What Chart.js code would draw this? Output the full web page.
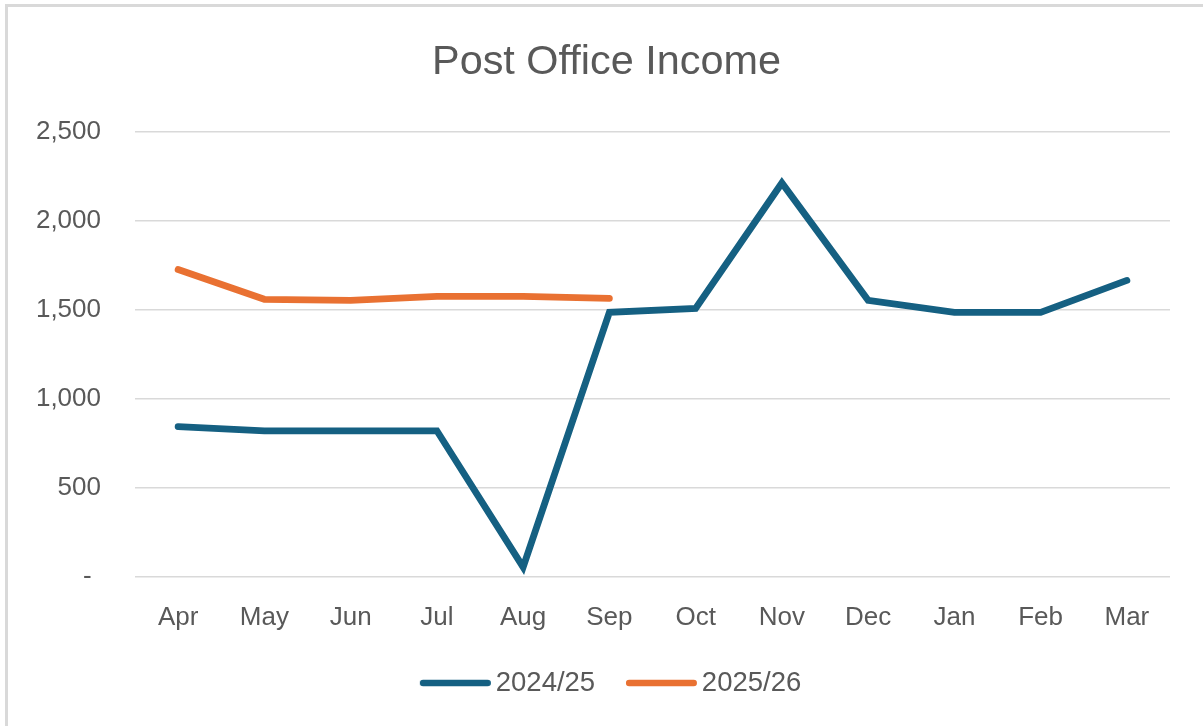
<!DOCTYPE html>
<html>
<head>
<meta charset="utf-8">
<script src="https://cdn.jsdelivr.net/npm/chart.js@4/dist/chart.umd.min.js"></script>
<style>
  html, body { margin: 0; padding: 0; background: #fff; overflow: hidden; width: 1203px; height: 726px; }
  #frame { position: absolute; left: 5px; top: 4px; width: 1220px; height: 760px;
           border-top: 3px solid #d9d9d9; border-left: 3px solid #d9d9d9; box-sizing: border-box; }
  #wrap { position: absolute; left: 5px; top: 0px; width: 1203px; height: 740px; }
</style>
</head>
<body>
<div id="frame"></div>
<div id="wrap"><canvas id="c" width="1203" height="740"></canvas></div>
<script>
const months = ['Apr','May','Jun','Jul','Aug','Sep','Oct','Nov','Dec','Jan','Feb','Mar'];
const seriesNames = ['2024/25', '2025/26'];
const income2024 = [844, 821, 821, 821, 56, 1486, 1508, 2212, 1553, 1486, 1486, 1665];
const income2025 = [1726, 1559, 1553, 1575, 1575, 1564];
const yTickValues = [0, 500, 1000, 1500, 2000, 2500];
const yTickLabels = ['-\u200A ', '500', '1,000', '1,500', '2,000', '2,500'];

const FONT = "'Liberation Sans', Arial, sans-serif";
const GREY = '#595959';
const BLUE = '#156082';
const ORANGE = '#E97132';

// legend sample: rounded line image, offset to the right inside the legend box
function legendSample(color) {
  const cv = document.createElement('canvas');
  cv.width = 88; cv.height = 10;
  const g = cv.getContext('2d');
  g.strokeStyle = color; g.lineWidth = 6.5; g.lineCap = 'round';
  g.beginPath(); g.moveTo(20.2, 5); g.lineTo(84.7, 5); g.stroke();
  return cv;
}

new Chart(document.getElementById('c'), {
  type: 'line',
  data: {
    labels: months,
    datasets: [
      { label: seriesNames[0], data: income2024, borderColor: BLUE, backgroundColor: BLUE,
        borderWidth: 6.8, borderCapStyle: 'round', pointRadius: 0, pointHoverRadius: 0,
        pointStyle: legendSample(BLUE), tension: 0 },
      { label: seriesNames[1], data: income2025, borderColor: ORANGE, backgroundColor: ORANGE,
        borderWidth: 6.8, borderCapStyle: 'round', pointRadius: 0, pointHoverRadius: 0,
        pointStyle: legendSample(ORANGE), tension: 0 }
    ]
  },
  options: {
    responsive: false,
    animation: false,
    events: [],
    layout: { padding: { left: 38, right: 38, top: 0, bottom: 33.25 } },
    plugins: {
      tooltip: { enabled: false },
      title: {
        display: true, text: 'Post Office Income', color: GREY,
        font: { family: FONT, size: 41.4, weight: 'normal' },
        padding: { top: 38, bottom: 44 }
      },
      legend: {
        position: 'bottom',
        labels: {
          color: GREY, font: { family: FONT, size: 27.5 },
          usePointStyle: true, pointStyleWidth: 70.25,
          padding: 22.7
        }
      }
    },
    scales: {
      x: {
        offset: true,
        grid: { display: false, drawTicks: false },
        border: { display: false },
        afterFit: (s) => { s.height = 69.5; },
        ticks: { color: GREY, font: { family: FONT, size: 26 }, padding: 25, maxRotation: 0, autoSkip: false }
      },
      y: {
        min: 0, max: 2500,
        afterBuildTicks: (s) => { s.ticks = yTickValues.map(v => ({ value: v })); },
        afterFit: (s) => { s.width = 92; s._computeLabelArea = () => undefined; },
        grid: { color: '#d9d9d9', lineWidth: 1.5, drawTicks: false },
        border: { display: false },
        ticks: {
          color: GREY, font: { family: FONT, size: 26 }, padding: 34,
          callback: (v) => { const i = yTickValues.indexOf(v); return i >= 0 ? yTickLabels[i] : ''; }
        }
      }
    }
  }
});
</script>
</body>
</html>
